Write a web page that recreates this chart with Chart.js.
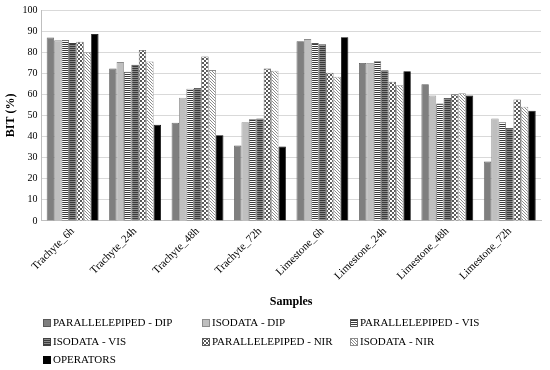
<!DOCTYPE html>
<html>
<head>
<meta charset="utf-8">
<script src="https://cdn.jsdelivr.net/npm/chart.js@4.4.1/dist/chart.umd.min.js"></script>
<style>
html,body{margin:0;padding:0;background:#fff;}
#wrap{width:550px;height:370px;position:relative;}
#probe{position:absolute;left:-9999px;top:0;font-family:"Liberation Serif";}
</style>
</head>
<body>
<div id="wrap"><canvas id="c" width="550" height="370"></canvas></div>
<span id="probe">Samples <b>BIT</b></span>
<script>
const categories = ["Trachyte_6h","Trachyte_24h","Trachyte_48h","Trachyte_72h","Limestone_6h","Limestone_24h","Limestone_48h","Limestone_72h"];
const seriesNames = ["PARALLELEPIPED - DIP","ISODATA - DIP","PARALLELEPIPED - VIS","ISODATA - VIS","PARALLELEPIPED - NIR","ISODATA - NIR","OPERATORS"];
const parallelepipedDip = [87.0, 72.2, 46.5, 35.7, 85.2, 74.9, 64.8, 28.1];
const isodataDip        = [85.6, 75.3, 58.4, 46.8, 86.2, 74.9, 59.5, 48.6];
const parallelepipedVis = [85.8, 70.7, 62.7, 48.2, 84.3, 75.7, 55.7, 46.8];
const isodataVis        = [84.3, 74.0, 63.0, 48.5, 83.7, 71.4, 58.3, 44.1];
const parallelepipedNir = [85.0, 81.0, 78.0, 72.2, 70.3, 66.0, 60.0, 57.6];
const isodataNir        = [80.0, 75.6, 71.5, 71.2, 68.4, 64.3, 60.5, 54.1];
const operators         = [88.6, 45.6, 40.6, 35.3, 87.1, 71.0, 59.5, 52.2];
const yTicks = [0,10,20,30,40,50,60,70,80,90,100];

function makePattern(kind){
  const t = document.createElement('canvas');
  const x = t.getContext('2d');
  if(kind==='pvis'){
    t.width=2;t.height=2;x.fillStyle='#ffffff';x.fillRect(0,0,2,2);
    x.fillStyle='#3a3a3a';x.fillRect(0,0,2,1);
  } else if(kind==='ivis'){
    t.width=2;t.height=2;x.fillStyle='#8a8a8a';x.fillRect(0,0,2,2);
    x.fillStyle='#3a3a3a';x.fillRect(0,0,2,1);
  } else if(kind==='pnir'){
    t.width=4;t.height=4;x.fillStyle='#ffffff';x.fillRect(0,0,4,4);
    x.fillStyle='#5a5a5a';x.fillRect(0,0,2,2);x.fillRect(2,2,2,2);
  } else if(kind==='inir'){
    t.width=3;t.height=3;x.fillStyle='#ffffff';x.fillRect(0,0,3,3);
    x.fillStyle='#8c8c8c';x.fillRect(0,0,1,1);x.fillRect(1,1,1,1);x.fillRect(2,2,1,1);
  }
  return document.getElementById('c').getContext('2d').createPattern(t,'repeat');
}

const serif = '"Liberation Serif", "Times New Roman", Times, serif';

function build(){
  const fills = ['#7f7f7f','#bfbfbf',makePattern('pvis'),makePattern('ivis'),makePattern('pnir'),makePattern('inir'),'#000000'];
  const borders = ['#595959','#8c8c8c','#595959','#404040','#595959','#8c8c8c','#000000'];
  const seriesData = [parallelepipedDip,isodataDip,parallelepipedVis,isodataVis,parallelepipedNir,isodataNir,operators];

  const gridLegend = {
    id:'gridLegend',
    afterDraw(chart){
      const ctx = chart.ctx;
      const colsX = [43, 202, 350];
      const rowsY = [323, 342, 360];
      ctx.save();
      ctx.font = "11px " + serif;
      ctx.textBaseline = 'middle';
      chart.data.datasets.forEach((ds,i)=>{
        const col = i%3, row = Math.floor(i/3);
        const x = colsX[col], y = rowsY[row];
        ctx.fillStyle = ds.backgroundColor;
        ctx.fillRect(x, y-4, 8, 8);
        ctx.strokeStyle = ds.borderColor;
        ctx.lineWidth = 1;
        ctx.strokeRect(x+0.5, y-3.5, 7, 7);
        ctx.fillStyle = '#000';
        ctx.fillText(ds.label, x+10, y+0.5);
      });
      ctx.restore();
    }
  };

  new Chart(document.getElementById('c'), {
    type:'bar',
    data:{
      labels:categories,
      datasets: seriesNames.map((n,i)=>({
        label:n,
        data:seriesData[i],
        backgroundColor:fills[i],
        borderColor:borders[i],
        borderWidth:0.8,
        barPercentage:1.0,
        categoryPercentage:0.83
      }))
    },
    options:{
      responsive:false,
      animation:false,
      layout:{padding:{left:0,right:9,top:0,bottom:61}},
      plugins:{legend:{display:false},tooltip:{enabled:false}},
      scales:{
        x:{
          grid:{display:false,drawTicks:false},
          border:{color:'#bfbfbf'},
          ticks:{font:{family:serif,size:11},color:'#000',minRotation:45,maxRotation:45,padding:4},
          title:{display:true,text:'Samples',font:{family:serif,size:12,weight:'bold'},color:'#000',padding:{top:8,bottom:0}}
        },
        y:{
          min:0,max:100,
          afterBuildTicks(axis){axis.ticks = yTicks.map(v=>({value:v}));},
          grid:{color:'#d9d9d9',drawTicks:false},
          border:{color:'#bfbfbf'},
          ticks:{font:{family:serif,size:10},color:'#000',padding:4},
          title:{display:true,text:'BIT (%)',font:{family:serif,size:12,weight:'bold'},color:'#000',padding:{top:4,bottom:0}}
        }
      }
    },
    plugins:[gridLegend]
  });
}

Promise.all([
  document.fonts.load('12px "Liberation Serif"'),
  document.fonts.load('bold 12px "Liberation Serif"')
]).catch(()=>{}).then(build);
</script>
</body>
</html>
